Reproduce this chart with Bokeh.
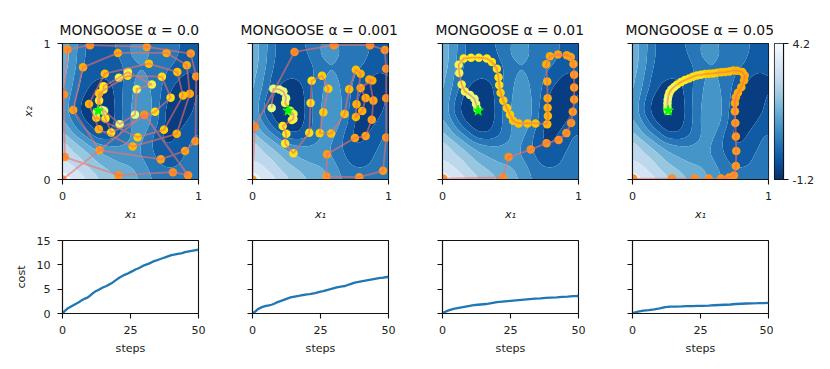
from bokeh.plotting import figure
from bokeh.layouts import row, column
from bokeh.models import FixedTicker, Range1d, LinearColorMapper, ColumnDataSource
from bokeh.palettes import Blues256
from bokeh.transform import transform
from bokeh.embed import file_html
from bokeh.resources import INLINE
import numpy as np

titles = ["MONGOOSE α = 0.0", "MONGOOSE α = 0.001", "MONGOOSE α = 0.01", "MONGOOSE α = 0.05"]

path_a_x = [0,.602,.923,.812,.412,.017,.010,.037,.202,.620,.943,.983,.978,.901,.723,.272,.079,.151,.407,.765,.914,.936,.840,.516,.267,.195,.311,.635,.844,.886,.746,.553,.249,.269,.479,.731,.795,.681,.358,.316,.269,.301,.301,.415,.481,.657,.546,.533,.420,.306,.289,.252]
path_a_y = [0,.477,.032,.054,.032,.165,.625,.956,.988,.975,.926,.758,.281,.210,.148,.215,.511,.825,.931,.931,.840,.630,.336,.242,.370,.556,.778,.852,.790,.617,.365,.311,.454,.635,.763,.756,.602,.499,.346,.449,.580,.662,.686,.748,.790,.699,.664,.477,.407,.506,.511,.494]
path_b_x = [0,.017,.309,.598,.864,.973,.983,.983,.983,.960,.785,.543,.548,.753,.832,.877,.889,.859,.881,.795,.832,.807,.760,.765,.795,.760,.711,.677,.578,.494,.521,.558,.511,.435,.427,.417,.301,.240,.249,.222,.289,.301,.301,.277,.240,.247,.227,.198,.153,.141]
path_b_y = [0,.388,.938,.988,.988,.953,.815,.598,.309,.064,.017,.022,.185,.306,.319,.440,.580,.736,.728,.672,.600,.504,.459,.553,.778,.807,.664,.481,.338,.341,.494,.667,.763,.726,.563,.343,.193,.264,.336,.393,.437,.444,.481,.506,.563,.598,.647,.662,.667,.526]
path_c_x = [.005,.444,.486,.649,.765,.854,.911,.946,.958,.968,.968,.968,.963,.943,.914,.849,.790,.763,.770,.773,.773,.775,.770,.684,.625,.560,.519,.496,.474,.447,.427,.417,.412,.400,.363,.326,.267,.210,.156,.119,.123,.141,.165,.202,.235,.247,.257]
path_c_y = [.007,.015,.165,.220,.267,.291,.341,.415,.499,.588,.677,.770,.849,.901,.914,.919,.906,.847,.721,.598,.528,.467,.407,.412,.412,.412,.432,.477,.526,.580,.637,.694,.751,.815,.864,.889,.896,.896,.889,.844,.783,.699,.647,.622,.593,.556,.519]
path_d_x = [.005,.289,.457,.560,.652,.709,.746,.760,.763,.760,.756,.753,.753,.760,.775,.800,.820,.825,.807,.770,.741,.711,.681,.652,.622,.593,.563,.533,.504,.474,.444,.415,.385,.356,.328,.306,.286,.272,.264,.259,.257,.257,.259]
path_d_y = [.007,.007,.007,.007,.007,.015,.030,.099,.210,.316,.415,.501,.563,.605,.637,.679,.728,.765,.790,.800,.802,.795,.790,.788,.785,.780,.778,.775,.770,.765,.756,.743,.731,.716,.699,.681,.662,.640,.615,.588,.560,.533,.506]
paths = [(path_a_x, path_a_y), (path_b_x, path_b_y), (path_c_x, path_c_y), (path_d_x, path_d_y)]
star_x = [0.262]
star_y = [0.506]

cost_steps = list(range(51))
cost_a = [0,.6,1.1,1.4,1.7,2.0,2.3,2.7,3.0,3.2,3.6,4.1,4.5,4.8,5.1,5.4,5.6,5.9,6.2,6.6,7.0,7.4,7.7,8.0,8.2,8.5,8.8,9.1,9.3,9.6,9.9,10.1,10.3,10.6,10.8,11.0,11.2,11.4,11.6,11.8,12.0,12.1,12.2,12.3,12.4,12.6,12.7,12.8,12.9,13.0,13.1]
cost_b = [0,.4,.9,1.2,1.4,1.55,1.65,1.8,2.0,2.3,2.5,2.7,2.9,3.1,3.3,3.4,3.5,3.6,3.75,3.85,3.95,4.0,4.1,4.2,4.35,4.5,4.6,4.75,4.9,5.05,5.2,5.35,5.45,5.55,5.65,5.85,6.05,6.25,6.4,6.5,6.6,6.7,6.8,6.9,7.0,7.1,7.2,7.3,7.35,7.45,7.55]
cost_steps_2 = list(range(0, 51, 2))
cost_c = [.1,.6,.95,1.15,1.35,1.55,1.75,1.85,1.95,2.15,2.35,2.45,2.55,2.65,2.75,2.85,2.95,3.05,3.1,3.2,3.25,3.3,3.4,3.45,3.55,3.6]
cost_d = [.1,.4,.6,.7,.85,1.05,1.3,1.4,1.42,1.45,1.5,1.52,1.55,1.55,1.6,1.7,1.75,1.8,1.85,1.95,2.0,2.05,2.1,2.12,2.15,2.2]

# landscape, in contour-band units, row 0 is the top edge
field_bands = [
    [4.5,3.5,2.0,1.4,1.6,2.3,3.0,3.2,2.8,2.4,2.1,1.8,1.6],
    [4.6,3.4,2.0,1.3,1.3,2.1,3.0,3.3,2.8,2.3,2.05,1.8,1.6],
    [4.5,3.3,1.8,1.2,1.2,1.7,2.6,3.0,2.6,2.2,1.9,1.4,1.3],
    [4.3,3.0,1.5,1.1,1.1,1.6,2.7,3.2,2.7,2.0,1.3,0.7,1.0],
    [4.2,2.7,1.2,0.6,0.6,1.6,2.8,3.4,2.8,1.7,0.7,0.4,1.0],
    [4.0,2.2,0.6,0.2,0.3,1.6,2.9,3.5,2.9,1.4,0.3,0.5,1.2],
    [4.0,2.0,0.5,0.1,0.3,1.5,3.0,3.6,2.9,1.1,0.2,0.7,1.3],
    [4.3,2.9,1.2,0.3,0.5,1.6,3.0,3.6,2.7,1.0,0.5,1.1,1.6],
    [5.3,4.0,2.8,1.4,1.2,1.9,3.0,3.3,2.1,0.8,0.9,1.6,2.0],
    [6.4,5.5,4.4,3.4,3.0,3.0,3.2,3.0,1.9,1.1,1.2,1.8,2.7],
    [6.8,6.3,5.6,4.6,4.0,3.6,3.4,3.0,2.2,1.4,1.5,2.3,3.1],
    [7.7,7.1,6.3,5.5,4.9,4.4,4.1,3.5,2.6,2.1,2.1,2.4,2.7],
    [8.6,7.9,7.1,6.2,5.5,4.9,4.4,3.8,2.9,2.4,2.3,2.4,2.5],
]
z_min, z_max = -1.2, 4.2
n_bands = 9

FONT = "DejaVu Sans"
INK = "#111111"
levels = [z_min + (z_max - z_min) * i / n_bands for i in range(n_bands + 1)]


def refine(a, k=6):
    """Smooth the read grid for drawing: Catmull-Rom along the first axis."""
    n = a.shape[0]
    t = np.linspace(0, n - 1, (n - 1) * k + 1)
    i = np.clip(np.floor(t).astype(int), 0, n - 2)
    f = (t - i)[:, None]
    g = lambda j: a[np.clip(j, 0, n - 1)]
    p0, p1, p2, p3 = g(i - 1), g(i), g(i + 1), g(i + 2)
    return 0.5 * (2 * p1 + (p2 - p0) * f + (2 * p0 - 5 * p1 + 4 * p2 - p3) * f ** 2 + (3 * p1 - p0 - 3 * p2 + p3) * f ** 3)


def soften(a, passes=3):
    """Round the corners of the drawn bands; the read grid stays as it is."""
    kernel = np.array([1, 4, 6, 4, 1]) / 16
    for _ in range(passes):
        pad = np.pad(a, 2, mode="edge")
        pad = np.apply_along_axis(lambda r: np.convolve(r, kernel, mode="same"), 0, pad)
        pad = np.apply_along_axis(lambda r: np.convolve(r, kernel, mode="same"), 1, pad)
        a = pad[2:-2, 2:-2]
    return a


z_grid = z_min + (z_max - z_min) / n_bands * np.array(field_bands)[::-1]
z_grid = np.clip(soften(refine(refine(z_grid).T).T), z_min, z_max)
grid_x = np.linspace(0, 1, z_grid.shape[1])
grid_y = np.linspace(0, 1, z_grid.shape[0])
band_colors = [Blues256[int(255 * (i + .5) / n_bands)] for i in range(n_bands)]
step_palette = ["#ff8f1c", "#ff931a", "#ff9a18", "#ffa210", "#ffab06", "#ffb500", "#ffc200", "#ffd000", "#ffdf10", "#ffea1a", "#f5f54a", "#e4ff7a"]


def style(p, first, xticks, yticks):
    p.toolbar_location = None
    p.grid.visible = False
    p.outline_line_color = INK
    p.outline_line_width = 1.1
    p.outline_line_alpha = 1
    for ax in (p.xaxis[0], p.yaxis[0]):
        ax.axis_line_color = INK
        ax.axis_line_width = 1.1
        ax.major_tick_line_color = INK
        ax.major_tick_line_width = 1.1
        ax.major_tick_out = 5
        ax.major_tick_in = 0
        ax.minor_tick_line_color = None
        ax.major_label_text_font = FONT
        ax.major_label_text_font_size = "11.1px"
        ax.major_label_text_color = "#222222"
        ax.major_label_standoff = 7
        ax.axis_label_text_font = FONT
        ax.axis_label_text_font_size = "11.1px"
        ax.axis_label_text_font_style = "normal"
        ax.axis_label_text_color = "#222222"
    p.xaxis[0].ticker = FixedTicker(ticks=xticks)
    p.yaxis[0].ticker = FixedTicker(ticks=yticks)
    if not first:
        p.yaxis[0].major_label_overrides = {t: "" for t in yticks}


top_figs, bottom_figs = [], []
costs = [(cost_steps, cost_a), (cost_steps, cost_b), (cost_steps_2, cost_c), (cost_steps_2, cost_d)]
border_l = [62, 27, 27, 27]
border_r = [27, 27, 27, 5]
title_offset = [-3, -12, -7, -7]

for i in range(4):
    p = figure(width=border_l[i] + 136 + border_r[i], height=226, output_backend="svg", toolbar_location=None,
               x_range=Range1d(0, 1), y_range=Range1d(0, 1),
               min_border_left=border_l[i], min_border_right=border_r[i], min_border_top=43, min_border_bottom=47,
               title=titles[i])
    style(p, i == 0, [0, 1], [0, 1])
    p.title.text_font = FONT
    p.title.text_font_size = "13.9px"
    p.title.text_font_style = "normal"
    p.title.text_color = "#111111"
    p.title.align = "left"
    p.title.offset = title_offset[i]
    p.title.standoff = 11
    p.xaxis[0].axis_label = "x₁"
    p.xaxis[0].axis_label_text_font_style = "italic"
    if i == 0:
        p.yaxis[0].axis_label = "x₂"
        p.yaxis[0].axis_label_text_font_style = "italic"
    p.contour(grid_x, grid_y, z_grid, levels, fill_color=band_colors, line_color=None)
    xs, ys = paths[i]
    src = ColumnDataSource(dict(x=xs, y=ys, s=list(range(len(xs)))))
    mapper = LinearColorMapper(palette=step_palette, low=0, high=len(xs) - 1)
    p.scatter("x", "y", source=src, size=8.5, line_color=None,
              fill_color=transform("s", mapper))
    p.line("x", "y", source=src, line_color="#f0706a", line_width=1.8, line_alpha=0.6)
    p.scatter(star_x, star_y, marker="star", size=11, fill_color="#00ff00", line_color="#00ff00")
    top_figs.append(p)

    b = figure(width=border_l[i] + 136 + border_r[i], height=133, output_backend="svg", toolbar_location=None,
               x_range=Range1d(0, 50), y_range=Range1d(0, 15),
               min_border_left=border_l[i], min_border_right=border_r[i], min_border_top=14, min_border_bottom=46)
    style(b, i == 0, [0, 25, 50], [0, 5, 10, 15])
    b.xaxis[0].axis_label = "steps"
    if i == 0:
        b.yaxis[0].axis_label = "cost"
    b.line(costs[i][0], costs[i][1], line_color="#1f77b4", line_width=2.3)
    bottom_figs.append(b)

# colour bar
bar_gradient = np.linspace(z_min, z_max, 256).reshape(-1, 1)
bar = figure(width=46, height=226, output_backend="svg", toolbar_location=None,
             x_range=Range1d(0, 1), y_range=Range1d(z_min, z_max),
             min_border_left=1, min_border_right=36, min_border_top=43, min_border_bottom=47,
             y_axis_location="right")
style(bar, True, [], [z_min, z_max])
bar.xaxis.visible = False
bar.yaxis[0].major_label_overrides = {z_min: "-1.2", z_max: "4.2"}
bar.yaxis[0].major_label_standoff = 4
bar.image(image=[bar_gradient], x=0, y=z_min, dw=1, dh=z_max - z_min,
          color_mapper=LinearColorMapper(palette=Blues256, low=z_min, high=z_max))

page = column(row(*top_figs, bar, spacing=0), row(*bottom_figs, spacing=0), spacing=0)
open("out.html", "w").write(file_html(page, INLINE))
